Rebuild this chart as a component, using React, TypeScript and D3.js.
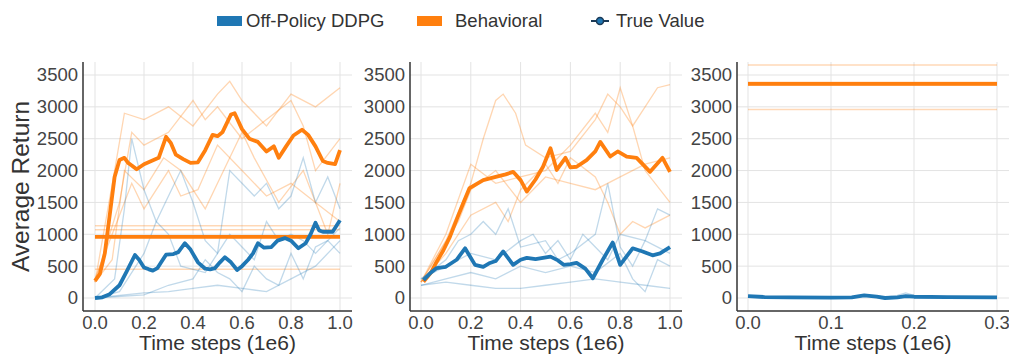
import React from 'react';
import * as d3 from 'd3';

type Pt = [number, number];

// ---- panel 1 (x in 1e6 steps) ----
const p1Ddpg: Pt[] = [[0,0],[0.03,10],[0.06,60],[0.1,200],[0.13,420],[0.163,675],[0.18,600],[0.2,480],[0.22,450],[0.236,430],[0.255,470],[0.27,560],[0.29,680],[0.32,690],[0.34,720],[0.367,860],[0.39,760],[0.42,560],[0.45,460],[0.47,450],[0.49,470],[0.51,560],[0.53,640],[0.555,560],[0.58,440],[0.6,500],[0.625,600],[0.645,700],[0.665,860],[0.69,790],[0.72,800],[0.745,900],[0.775,940],[0.8,900],[0.83,780],[0.86,860],[0.88,1000],[0.9,1180],[0.915,1060],[0.93,1040],[0.97,1040],[1.0,1220]];
const p1Behavioral: Pt[] = [[0,270],[0.02,380],[0.04,700],[0.06,1300],[0.08,1900],[0.1,2165],[0.12,2200],[0.135,2120],[0.15,2080],[0.17,2020],[0.2,2100],[0.23,2150],[0.26,2200],[0.29,2530],[0.31,2430],[0.33,2250],[0.36,2180],[0.39,2120],[0.42,2130],[0.45,2320],[0.48,2560],[0.5,2540],[0.52,2600],[0.555,2880],[0.57,2900],[0.6,2650],[0.63,2500],[0.665,2450],[0.7,2300],[0.73,2380],[0.75,2200],[0.78,2380],[0.81,2550],[0.845,2640],[0.87,2560],[0.9,2380],[0.93,2150],[0.95,2120],[0.98,2100],[1.0,2320]];
const p1DdpgSeeds: Pt[][] = [
  [[0,0],[0.08,300],[0.12,1400],[0.15,2500],[0.2,1700],[0.25,1200],[0.3,1600],[0.35,2000],[0.4,1500],[0.45,900],[0.5,700],[0.55,2000],[0.6,1800],[0.65,1600],[0.7,1800],[0.75,1400],[0.8,1600],[0.85,2200],[0.9,1500],[0.95,1900],[1.0,1400]],
  [[0,0],[0.1,100],[0.2,700],[0.25,1200],[0.3,1000],[0.35,500],[0.45,400],[0.5,700],[0.55,1000],[0.6,800],[0.65,600],[0.7,1200],[0.75,900],[0.8,1000],[0.85,900],[0.9,700],[1.0,1100]],
  [[0,0],[0.2,50],[0.3,200],[0.4,300],[0.45,600],[0.5,400],[0.55,300],[0.6,100],[0.65,500],[0.7,300],[0.75,200],[0.8,700],[0.85,300],[0.9,800],[0.95,900],[1.0,700]],
  [[0,0],[0.2,80],[0.3,100],[0.4,150],[0.5,200],[0.6,150],[0.7,100],[0.8,300],[0.9,500],[1.0,900]],
];
const p1BehavioralSeeds: Pt[][] = [
  [[0,250],[0.08,2000],[0.12,2900],[0.2,2800],[0.3,3000],[0.4,2700],[0.5,3200],[0.55,3400],[0.6,3100],[0.7,2700],[0.8,3200],[0.9,3000],[1.0,3300]],
  [[0,250],[0.1,1500],[0.15,2600],[0.2,2400],[0.3,2600],[0.4,3100],[0.45,2800],[0.5,3000],[0.6,2500],[0.7,2800],[0.8,3100],[0.85,2700],[0.9,2000],[1.0,2500]],
  [[0,300],[0.1,1300],[0.15,1800],[0.2,1400],[0.3,2000],[0.35,1600],[0.42,1700],[0.5,2400],[0.6,2000],[0.7,1600],[0.8,1800],[0.9,1500],[1.0,1200]],
  [[0,250],[0.07,600],[0.12,2000],[0.2,1700],[0.28,2200],[0.35,2000],[0.45,1400],[0.5,1800],[0.6,2600],[0.65,2200],[0.75,1500],[0.85,2000],[0.95,1000],[1.0,1800]],
];
const p1Reference = 960;
const p1ReferenceSeeds = [1135, 1070, 450];

// ---- panel 2 ----
const p2Ddpg: Pt[] = [[0.01,280],[0.04,400],[0.063,470],[0.1,490],[0.143,600],[0.177,780],[0.217,520],[0.25,490],[0.277,550],[0.3,580],[0.33,730],[0.37,520],[0.4,600],[0.425,630],[0.46,610],[0.49,630],[0.52,650],[0.55,590],[0.573,520],[0.6,530],[0.625,550],[0.66,460],[0.69,310],[0.73,600],[0.77,870],[0.8,520],[0.85,780],[0.89,730],[0.93,670],[0.96,700],[1.0,800]];
const p2Behavioral: Pt[] = [[0.01,255],[0.04,400],[0.063,570],[0.09,750],[0.116,960],[0.145,1250],[0.17,1490],[0.195,1725],[0.25,1850],[0.3,1900],[0.34,1940],[0.37,1980],[0.4,1850],[0.425,1670],[0.46,1860],[0.49,2060],[0.52,2350],[0.545,2010],[0.58,2200],[0.6,2050],[0.625,2060],[0.665,2165],[0.7,2300],[0.72,2450],[0.76,2220],[0.79,2300],[0.826,2220],[0.866,2200],[0.92,1980],[0.97,2200],[1.0,1980]];
const p2DdpgSeeds: Pt[][] = [
  [[0,300],[0.1,600],[0.15,900],[0.2,1000],[0.25,1200],[0.3,1000],[0.35,1400],[0.4,800],[0.5,900],[0.55,600],[0.6,700],[0.7,1000],[0.75,1800],[0.78,1200],[0.8,800],[0.85,500],[0.9,900],[0.95,1400],[1.0,1300]],
  [[0,300],[0.1,500],[0.2,700],[0.3,600],[0.4,900],[0.45,1000],[0.5,700],[0.55,900],[0.6,600],[0.65,1000],[0.7,800],[0.75,600],[0.8,1000],[0.9,900],[1.0,700]],
  [[0,200],[0.1,300],[0.2,400],[0.3,300],[0.4,500],[0.5,400],[0.6,500],[0.7,400],[0.8,700],[0.85,300],[0.9,100],[0.95,600],[1.0,500]],
  [[0,200],[0.1,250],[0.2,200],[0.3,150],[0.4,150],[0.5,200],[0.6,250],[0.7,300],[0.8,250],[0.9,200],[1.0,150]],
];
const p2BehavioralSeeds: Pt[][] = [
  [[0,250],[0.1,900],[0.2,1800],[0.25,2500],[0.3,3100],[0.33,3200],[0.38,2900],[0.42,2400],[0.5,2200],[0.6,2300],[0.7,2800],[0.75,3200],[0.8,3000],[0.85,2700],[0.9,3000],[0.95,3300],[1.0,3350]],
  [[0,250],[0.1,1000],[0.2,2100],[0.3,1800],[0.4,1900],[0.5,2000],[0.6,2400],[0.7,2900],[0.75,2600],[0.8,3300],[0.85,2700],[0.9,2000],[1.0,1500]],
  [[0,250],[0.1,700],[0.2,1300],[0.3,1500],[0.35,1200],[0.4,1700],[0.5,2100],[0.55,1800],[0.6,2200],[0.7,1900],[0.75,1500],[0.8,1000],[0.85,1200],[0.9,1100],[1.0,1300]],
  [[0,250],[0.15,1200],[0.2,1700],[0.3,2000],[0.4,1500],[0.5,1900],[0.6,1800],[0.7,1700],[0.8,1900],[0.9,2100],[1.0,2200]],
];

// ---- panel 3 ----
const p3Ddpg: Pt[] = [[0,30],[0.02,15],[0.05,10],[0.1,5],[0.125,10],[0.14,40],[0.155,20],[0.165,0],[0.18,10],[0.19,30],[0.2,20],[0.24,15],[0.3,10]];
const p3DdpgSeeds: Pt[][] = [
  [[0,30],[0.05,10],[0.13,15],[0.14,50],[0.16,5],[0.18,40],[0.19,80],[0.2,40],[0.25,15],[0.3,10]],
];
const p3Reference = 3360;
const p3ReferenceSeeds = [3655, 2960, 3340, 3385];

const yTicks = [0, 500, 1000, 1500, 2000, 2500, 3000, 3500];
const xTicksLong = [0, 0.2, 0.4, 0.6, 0.8, 1.0];
const xTicksShort = [0, 0.1, 0.2, 0.3];

const BLUE = '#1f77b4';
const ORANGE = '#ff7f0e';
const FONT = '"Liberation Sans", Arial, sans-serif';

type PanelProps = {
  left: number; right: number; x0: number; x1: number;
  xDomain: [number, number]; xTicks: number[];
  ddpg: Pt[]; ddpgSeeds: Pt[][];
  behavioral?: Pt[]; behavioralSeeds?: Pt[][];
  reference?: number; referenceSeeds?: number[];
  showYLabel?: boolean;
};

const TOP = 62, BOTTOM = 311;
const y = d3.scaleLinear().domain([0, 3500]).range([298, 75]);

function Panel(p: PanelProps) {
  const x = d3.scaleLinear().domain(p.xDomain).range([p.x0, p.x1]);
  const line = d3.line<Pt>().x(d => x(d[0])).y(d => y(d[1]));
  const [xa, xb] = p.xDomain;
  return (
    <g>
      {yTicks.map(t => (
        <line key={'gy' + t} x1={p.left} x2={p.right} y1={y(t)} y2={y(t)} stroke="#e3e3e3" strokeWidth={1} />
      ))}
      {p.xTicks.map(t => (
        <line key={'gx' + t} x1={x(t)} x2={x(t)} y1={TOP} y2={BOTTOM} stroke="#e3e3e3" strokeWidth={1} />
      ))}
      {p.referenceSeeds?.map((v, i) => (
        <line key={'rs' + i} x1={x(xa)} x2={x(xb)} y1={y(v)} y2={y(v)} stroke={ORANGE} strokeOpacity={0.3} strokeWidth={1.5} />
      ))}
      {p.behavioralSeeds?.map((s, i) => (
        <path key={'bs' + i} d={line(s) || ''} fill="none" stroke={ORANGE} strokeOpacity={0.32} strokeWidth={1.3} />
      ))}
      {p.ddpgSeeds.map((s, i) => (
        <path key={'ds' + i} d={line(s) || ''} fill="none" stroke={BLUE} strokeOpacity={0.28} strokeWidth={1.3} />
      ))}
      {p.reference !== undefined && (
        <line x1={x(xa)} x2={x(xb)} y1={y(p.reference)} y2={y(p.reference)} stroke={ORANGE} strokeWidth={3.8} />
      )}
      {p.behavioral && (
        <path d={line(p.behavioral) || ''} fill="none" stroke={ORANGE} strokeWidth={3.8} strokeLinejoin="round" />
      )}
      <path d={line(p.ddpg) || ''} fill="none" stroke={BLUE} strokeWidth={3.8} strokeLinejoin="round" />
      <line x1={p.left} x2={p.left} y1={TOP} y2={BOTTOM} stroke="#333" strokeWidth={1.5} />
      <line x1={p.left} x2={p.right} y1={BOTTOM} y2={BOTTOM} stroke="#333" strokeWidth={1.5} />
      {yTicks.map(t => (
        <text key={'ty' + t} x={p.left - 5} y={y(t)} dy="0.35em" textAnchor="end" fontSize={18.5} fill="#444" fontFamily={FONT}>{t}</text>
      ))}
      {p.xTicks.map(t => (
        <text key={'tx' + t} x={x(t)} y={329} textAnchor="middle" fontSize={18.5} fill="#444" fontFamily={FONT}>{t.toFixed(1)}</text>
      ))}
      <text x={(p.left + p.right) / 2} y={350} textAnchor="middle" fontSize={21} fill="#333" fontFamily={FONT}>Time steps (1e6)</text>
      {p.showYLabel && (
        <text transform={`translate(29,${(TOP + BOTTOM) / 2}) rotate(-90)`} textAnchor="middle" fontSize={24.5} fill="#333" fontFamily={FONT}>Average Return</text>
      )}
    </g>
  );
}

export default function App() {
  return (
    <svg width={1009} height={356} style={{ position: 'absolute', left: 0, top: 0, background: '#fff' }}>
      <g fontFamily={FONT}>
        <rect x={217} y={16} width={25} height={10} fill={BLUE} />
        <text x={246} y={27} fontSize={18.5} fill="#333">Off-Policy DDPG</text>
        <rect x={417} y={16} width={25} height={10} fill={ORANGE} />
        <text x={455} y={27} fontSize={18.5} fill="#333">Behavioral</text>
        <line x1={591} x2={609} y1={21} y2={21} stroke="#1b3a57" strokeWidth={2} />
        <circle cx={600} cy={21} r={3.5} fill={BLUE} stroke="#1b3a57" strokeWidth={1.5} />
        <text x={616} y={27} fontSize={18.5} fill="#333">True Value</text>
      </g>
      <Panel left={83} right={352} x0={95} x1={340} xDomain={[0, 1]} xTicks={xTicksLong}
        ddpg={p1Ddpg} ddpgSeeds={p1DdpgSeeds} behavioral={p1Behavioral} behavioralSeeds={p1BehavioralSeeds}
        reference={p1Reference} referenceSeeds={p1ReferenceSeeds} showYLabel />
      <Panel left={410} right={682} x0={421} x1={670} xDomain={[0, 1]} xTicks={xTicksLong}
        ddpg={p2Ddpg} ddpgSeeds={p2DdpgSeeds} behavioral={p2Behavioral} behavioralSeeds={p2BehavioralSeeds} />
      <Panel left={737} right={1009} x0={748} x1={997} xDomain={[0, 0.3]} xTicks={xTicksShort}
        ddpg={p3Ddpg} ddpgSeeds={p3DdpgSeeds} reference={p3Reference} referenceSeeds={p3ReferenceSeeds} />
    </svg>
  );
}
